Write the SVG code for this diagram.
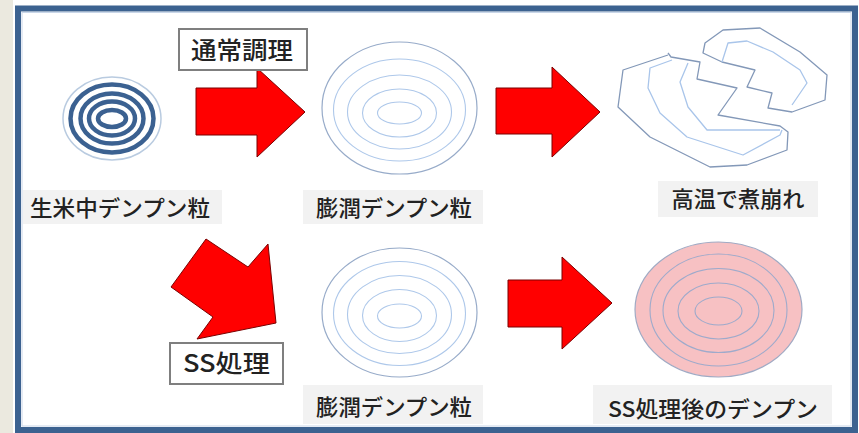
<svg xmlns="http://www.w3.org/2000/svg" width="859" height="433" viewBox="0 0 859 433">
  <style>
    .arrow { fill: #ff0000; stroke: #7a0000; stroke-width: 1; stroke-linejoin: miter; }
    .tag { fill: #ffffff; stroke: #7f7f7f; stroke-width: 2; }
    .caption-bg { fill: #f2f2f2; }
    .txt { font-family: "Noto Sans CJK JP", "Liberation Sans", sans-serif; fill: #222222; font-weight: 500; text-anchor: middle; }
    .rim { fill: none; stroke: #97abc9; stroke-width: 1.2; }
    .ring { fill: none; stroke: #aec8ea; stroke-width: 1.1; }
    .ring-pink { fill: none; stroke: #9eaacb; stroke-width: 1.1; }
    .raw { fill: none; stroke: #3b6191; stroke-width: 4.5; }
    .shard { fill: none; stroke: #8398b8; stroke-width: 1.3; stroke-linejoin: round; }
    .shard-in { fill: none; stroke: #a9c5ea; stroke-width: 1.3; stroke-linejoin: round; }
  </style>

  <!-- page background and frame -->
  <rect x="0" y="0" width="859" height="433" fill="#ffffff"/>
  <rect x="0" y="0" width="13" height="433" fill="#ebe9df"/>
  <rect x="18" y="8.5" width="837" height="421.5" fill="#ffffff" stroke="#3c6290" stroke-width="6"/>
  <rect x="22" y="12.5" width="829" height="413.5" fill="none" stroke="#c9d6e8" stroke-width="1"/>

  <!-- raw starch granule -->
  <g id="raw-granule">
    <ellipse cx="112" cy="118.5" rx="49" ry="41.5" fill="none" stroke="#b9cbe0" stroke-width="1.5"/>
    <ellipse class="raw" cx="112" cy="118.5" rx="41.5" ry="34"/>
    <ellipse class="raw" cx="112" cy="118.5" rx="31.5" ry="25"/>
    <ellipse class="raw" cx="112" cy="118.5" rx="23" ry="17"/>
    <ellipse class="raw" cx="112" cy="118.5" rx="14" ry="8.5"/>
  </g>
  <g id="label-raw">
    <rect class="caption-bg" x="23" y="190" width="199" height="34"/>
    <text class="txt" x="120" y="216" font-size="22" textLength="180" lengthAdjust="spacingAndGlyphs">生米中デンプン粒</text>
  </g>

  <!-- swollen granule, upper row -->
  <g id="swollen-top">
    <ellipse class="rim" cx="399.5" cy="108" rx="77.5" ry="66"/>
    <ellipse class="ring" cx="399.5" cy="110" rx="66" ry="51"/>
    <ellipse class="ring" cx="399.5" cy="112" rx="52" ry="37"/>
    <ellipse class="ring" cx="399.5" cy="113" rx="37" ry="24"/>
    <ellipse class="ring" cx="399.5" cy="113" rx="22" ry="11"/>
  </g>
  <g id="label-swollen-top">
    <rect class="caption-bg" x="303" y="190" width="180" height="34"/>
    <text class="txt" x="394" y="216" font-size="22" textLength="156" lengthAdjust="spacingAndGlyphs">膨潤デンプン粒</text>
  </g>

  <!-- broken granule after normal cooking -->
  <g id="broken-granule">
    <path class="shard" d="M668,53 L671,57 L700,62 L697,79 L737,88 L718,115 L780,126 L788,132 L787,150 L747,165 L710,167 L650,137 L618,107 L623,70 L668,55"/>
    <path class="shard" d="M705,43 L723,30 L760,28 L800,52 L827,75 L825,100 L792,112 L768,108 L772,93 L747,87 L755,70 L722,62 L703,53 Z"/>
    <path class="shard-in" d="M672,60 L650,68 L648,88 L660,113 L687,137 L743,155 L780,135 L782,130"/>
    <path class="shard-in" d="M688,63 L680,82 L688,107 L707,130 L780,130"/>
    <path class="shard-in" d="M722,62 L728,43 L747,41 L773,52 L800,70 L807,83 L792,105"/>
  </g>
  <g id="label-broken">
    <rect class="caption-bg" x="658" y="181" width="160" height="36"/>
    <text class="txt" x="738" y="207" font-size="22" textLength="133" lengthAdjust="spacingAndGlyphs">高温で煮崩れ</text>
  </g>

  <!-- swollen granule, lower row -->
  <g id="swollen-bottom">
    <ellipse class="rim" cx="399.5" cy="312.5" rx="77.5" ry="64.5"/>
    <ellipse class="ring" cx="399.5" cy="313.5" rx="66" ry="52"/>
    <ellipse class="ring" cx="399.5" cy="314.5" rx="52" ry="39"/>
    <ellipse class="ring" cx="399.5" cy="315.5" rx="37" ry="26"/>
    <ellipse class="ring" cx="399.5" cy="316" rx="22" ry="12"/>
  </g>
  <g id="label-swollen-bottom">
    <rect class="caption-bg" x="303" y="385" width="180" height="39"/>
    <text class="txt" x="394" y="415" font-size="22" textLength="156" lengthAdjust="spacingAndGlyphs">膨潤デンプン粒</text>
  </g>

  <!-- granule after SS treatment -->
  <g id="ss-granule">
    <ellipse cx="718.5" cy="309.5" rx="83.5" ry="67.5" fill="#f7c1c3" stroke="#a0aac4" stroke-width="1.2"/>
    <ellipse class="ring-pink" cx="718.5" cy="310" rx="68.5" ry="56"/>
    <ellipse class="ring-pink" cx="718.5" cy="310.5" rx="55.5" ry="42"/>
    <ellipse class="ring-pink" cx="718.5" cy="311" rx="40.5" ry="28"/>
    <ellipse class="ring-pink" cx="718.5" cy="311" rx="23.5" ry="14"/>
  </g>
  <g id="label-ss">
    <rect class="caption-bg" x="593" y="385" width="239" height="39"/>
    <text class="txt" x="713" y="417" font-size="22" textLength="210" lengthAdjust="spacingAndGlyphs">SS処理後のデンプン</text>
  </g>

  <!-- process arrows and their tags -->
  <g id="connectors">
    <polygon class="arrow" points="196,88 257,88 257,68 305,112 257,157 257,135 196,135"/>
    <polygon class="arrow" points="496,88 552,88 552,67 600,112 552,157 552,134 496,134"/>
    <polygon class="arrow" points="171,287 206,239 248,267 268,244 276,323 197,339 213,317"/>
    <polygon class="arrow" points="508,280 562,280 562,257 612,303 562,349 562,327 508,327"/>
  </g>
  <g id="tag-normal">
    <rect class="tag" x="179" y="29" width="128" height="41"/>
    <text class="txt" x="242" y="59" font-size="24" textLength="102" lengthAdjust="spacingAndGlyphs">通常調理</text>
  </g>
  <g id="tag-ss">
    <rect class="tag" x="170" y="343" width="113" height="41"/>
    <text class="txt" x="226.5" y="372" font-size="24" textLength="87" lengthAdjust="spacingAndGlyphs">SS処理</text>
  </g>
</svg>
